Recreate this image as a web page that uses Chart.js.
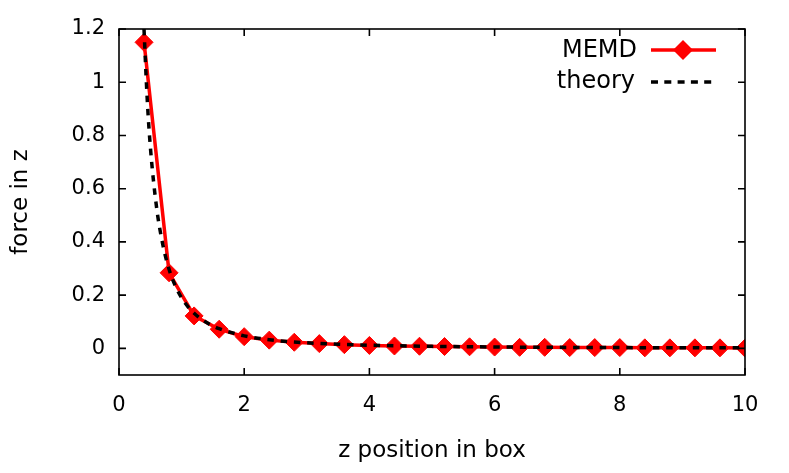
<!DOCTYPE html>
<html>
<head>
<meta charset="UTF-8">
<script src="https://cdn.jsdelivr.net/npm/chart.js@4.4.0/dist/chart.umd.min.js"></script>
<title>force in z</title>
<style>
body{margin:0;background:#fff}
</style>
</head>
<body>
<canvas id="myChart" width="789" height="473"></canvas>
<script>
// tick labels
var xTicks=[0,2,4,6,8,10]
var yTicks=[0,0.2,0.4,0.6,0.8,1,1.2]
// MEMD simulation points
var memdZ=[0.4,0.8,1.2,1.6,2.0,2.4,2.8,3.2,3.6,4.0,4.4,4.8,5.2,5.6,6.0,6.4,6.8,7.2,7.6,8.0,8.4,8.8,9.2,9.6,10.0]
var memdForce=[1.15,0.284,0.122,0.072,0.044,0.031,0.023,0.018,0.014,0.011,0.009,0.008,0.007,0.006,0.005,0.004,0.004,0.003,0.003,0.003,0.002,0.002,0.002,0.002,0.001]
// theory curve
var theoryZ=[0.39,0.45,0.5,0.6,0.7,0.8,0.9,1.0,1.1,1.2,1.4,1.6,1.8,2.0,2.5,3.0,3.5,4.0,5.0,6.0,7.0,8.0,9.0,10.0]
var theoryForce=[1.25,0.94,0.76,0.53,0.39,0.297,0.235,0.19,0.157,0.132,0.097,0.074,0.059,0.047,0.030,0.021,0.0155,0.012,0.0076,0.0053,0.0039,0.003,0.0023,0.0019]

var fontName='"DejaVu Sans", Verdana, sans-serif'

function toPoints(xs,ys){
	var out=[]
	for(var i=0;i<xs.length;i++) out.push({x:xs[i],y:ys[i]})
	return out
}

// gnuplot look: closed box, ticks pointing inwards on all four sides
var framePlugin={
	id:'frame',
	afterDraw:function(chart){
		var c=chart.ctx, a=chart.chartArea, sx=chart.scales.x, sy=chart.scales.y
		c.save()
		c.strokeStyle='#000'
		c.lineWidth=1.6
		c.strokeRect(a.left,a.top,a.right-a.left,a.bottom-a.top)
		c.beginPath()
		xTicks.forEach(function(v){
			var p=sx.getPixelForValue(v)
			c.moveTo(p,a.bottom);c.lineTo(p,a.bottom-7)
			c.moveTo(p,a.top);c.lineTo(p,a.top+7)
		})
		yTicks.forEach(function(v){
			var p=sy.getPixelForValue(v)
			c.moveTo(a.left,p);c.lineTo(a.left+7,p)
			c.moveTo(a.right,p);c.lineTo(a.right-7,p)
		})
		c.stroke()
		c.restore()
	}
}

// key in the top right corner, text right aligned with the sample after it
var keyPlugin={
	id:'key',
	afterDraw:function(chart){
		var c=chart.ctx
		c.save()
		c.font='24px '+fontName
		c.fillStyle='#000'
		c.textAlign='right'
		c.textBaseline='alphabetic'
		c.fillText('MEMD',637,57)
		c.fillText('theory',635,88)
		c.strokeStyle='#ff0000'
		c.lineWidth=3.5
		c.beginPath();c.moveTo(651,50);c.lineTo(716,50);c.stroke()
		c.fillStyle='#ff0000'
		c.beginPath();c.moveTo(673,50);c.lineTo(683,40);c.lineTo(693,50);c.lineTo(683,60);c.closePath();c.fill()
		c.strokeStyle='#000'
		c.setLineDash([7,6.3])
		c.beginPath();c.moveTo(651,82);c.lineTo(716,82);c.stroke()
		c.restore()
	}
}

var ctx=document.getElementById("myChart").getContext('2d')
var myChart=new Chart(ctx,{
	type:'line',
	data:{
		datasets:[{
			label:'MEMD',
			data:toPoints(memdZ,memdForce),
			borderColor:'#ff0000',
			backgroundColor:'#ff0000',
			borderWidth:3.5,
			pointStyle:'rectRot',
			pointRadius:9,
			pointBorderWidth:1,
			pointBackgroundColor:'#ff0000',
			pointBorderColor:'#ff0000',
			tension:0,
			fill:false,
			order:1
		},{
			label:'theory',
			data:toPoints(theoryZ,theoryForce),
			borderColor:'#000000',
			borderWidth:3.5,
			borderDash:[6.5,6.8],
			pointRadius:0,
			cubicInterpolationMode:'monotone',
			fill:false,
			order:0
		}]
	},
	options:{
		responsive:false,
		animation:false,
		layout:{padding:{left:0,top:29,right:44,bottom:0}},
		plugins:{legend:{display:false},tooltip:{enabled:false}},
		scales:{
			x:{
				type:'linear',
				min:0,max:10,
				afterBuildTicks:function(s){s.ticks=xTicks.map(function(v){return {value:v}})},
				afterFit:function(s){s.height=98},
				grid:{display:false,drawTicks:false},
				border:{display:false},
				ticks:{color:'#000',font:{family:fontName,size:21},padding:18,maxRotation:0,
					callback:function(v){return String(v)}},
				title:{display:true,text:'z position in box',color:'#000',font:{family:fontName,size:23},padding:{top:0,bottom:8}}
			},
			y:{
				min:-0.1,max:1.2,
				afterBuildTicks:function(s){s.ticks=yTicks.map(function(v){return {value:v}})},
				afterFit:function(s){s.width=119},
				grid:{display:false,drawTicks:false},
				border:{display:false},
				ticks:{color:'#000',font:{family:fontName,size:21},padding:14,
					callback:function(v){return String(v)}},
				title:{display:true,text:'force in z',color:'#000',font:{family:fontName,size:23},padding:{top:7,bottom:0}}
			}
		}
	},
	plugins:[framePlugin,keyPlugin]
})
</script>
</body>
</html>
